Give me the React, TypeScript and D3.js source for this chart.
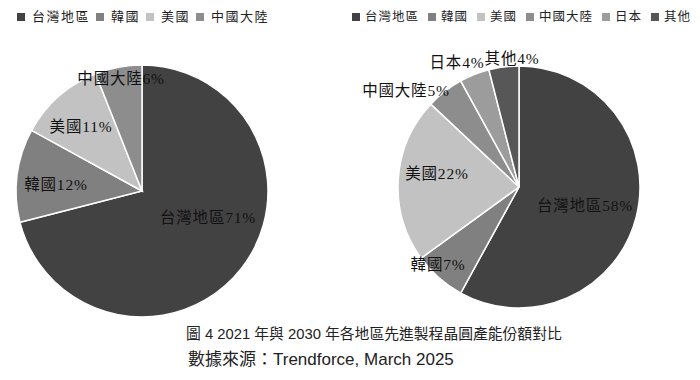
import React from "react";
import * as d3 from "d3";

const leftCategories = ["台灣地區", "韓國", "美國", "中國大陸"];
const leftValues = [71, 12, 11, 6];
const rightCategories = ["台灣地區", "韓國", "美國", "中國大陸", "日本", "其他"];
const rightValues = [58, 7, 22, 5, 4, 4];
const captionLine1 = "圖 4 2021 年與 2030 年各地區先進製程晶圓產能份額對比";
const captionLine2 = "數據來源：Trendforce, March 2025";

const colorMap: Record<string, string> = {
  "台灣地區": "#424242",
  "韓國": "#808080",
  "美國": "#c2c2c2",
  "中國大陸": "#8d8d8d",
  "日本": "#9c9c9c",
  "其他": "#575757",
};

// label placement: [radius fraction, angle offset in degrees]
const leftLabelPlace: [number, number][] = [
  [0.563, -16.3],
  [0.685, -2.6],
  [0.707, -1.8],
  [0.912, 0.3],
];
const rightLabelPlace: [number, number][] = [
  [0.565, 0.9],
  [0.924, 5.0],
  [0.688, 6.1],
  [1.231, -11.6],
  [1.153, -4.8],
  [1.068, 4.1],
];

const serif = "'Liberation Serif', 'Noto Sans CJK TC', serif";
const sans = "'Liberation Sans', 'Noto Sans CJK TC', sans-serif";

function Pie({ cats, vals, cx, cy, r, place }: { cats: string[]; vals: number[]; cx: number; cy: number; r: number; place: [number, number][] }) {
  const pie = d3.pie<number>().sort(null).value((d) => d).startAngle(0).endAngle(2 * Math.PI);
  const arcs = pie(vals);
  const arc = d3.arc<d3.PieArcDatum<number>>().innerRadius(0).outerRadius(r);
  return (
    <g transform={`translate(${cx},${cy})`}>
      {arcs.map((a, i) => (
        <path key={i} d={arc(a) || ""} fill={colorMap[cats[i]]} stroke="#ffffff" strokeWidth={1.5} />
      ))}
      {arcs.map((a, i) => {
        const mid = (a.startAngle + a.endAngle) / 2 + (place[i][1] * Math.PI) / 180;
        const rr = place[i][0] * r;
        const x = rr * Math.sin(mid);
        const y = -rr * Math.cos(mid);
        return (
          <text key={"t" + i} x={x} y={y} dy="0.36em" textAnchor="middle" fontFamily={serif} fontSize={15.5} letterSpacing={0.8} fill="#111">
            {cats[i]}
            {vals[i]}%
          </text>
        );
      })}
    </g>
  );
}

function Legend({ cats, x0, y, charW, fontSize, ls, gapText, gapItem }: { cats: string[]; x0: number; y: number; charW: number; fontSize: number; ls: number; gapText: number; gapItem: number }) {
  let x = x0;
  const items = cats.map((c) => {
    const item = { c, x };
    x += gapText + c.length * charW + gapItem;
    return item;
  });
  return (
    <g>
      {items.map((it, i) => (
        <g key={i}>
          <rect x={it.x} y={y - 8} width={8} height={8} fill={colorMap[it.c]} />
          <text x={it.x + gapText} y={y} fontFamily={serif} fontSize={fontSize} letterSpacing={ls} fill="#222">
            {it.c}
          </text>
        </g>
      ))}
    </g>
  );
}

export default function App() {
  return (
    <svg width={700} height={380} style={{ position: "absolute", left: 0, top: 0, background: "#fff" }}>
      <rect x={0} y={0} width={700} height={380} fill="#ffffff" />
      <Legend cats={leftCategories} x0={17} y={21} charW={14.5} fontSize={13} ls={1.5} gapText={15} gapItem={6} />
      <Legend cats={rightCategories} x0={352} y={21} charW={13.5} fontSize={12.5} ls={1} gapText={13} gapItem={9} />
      <Pie cats={leftCategories} vals={leftValues} cx={142} cy={191} r={126} place={leftLabelPlace} />
      <Pie cats={rightCategories} vals={rightValues} cx={519} cy={187} r={121} place={rightLabelPlace} />
      <text x={186} y={339} fontFamily={sans} fontSize={14.8} fill="#222">
        {captionLine1}
      </text>
      <text x={188} y={365} fontFamily={sans} fontSize={17} fill="#222">
        {captionLine2}
      </text>
    </svg>
  );
}
